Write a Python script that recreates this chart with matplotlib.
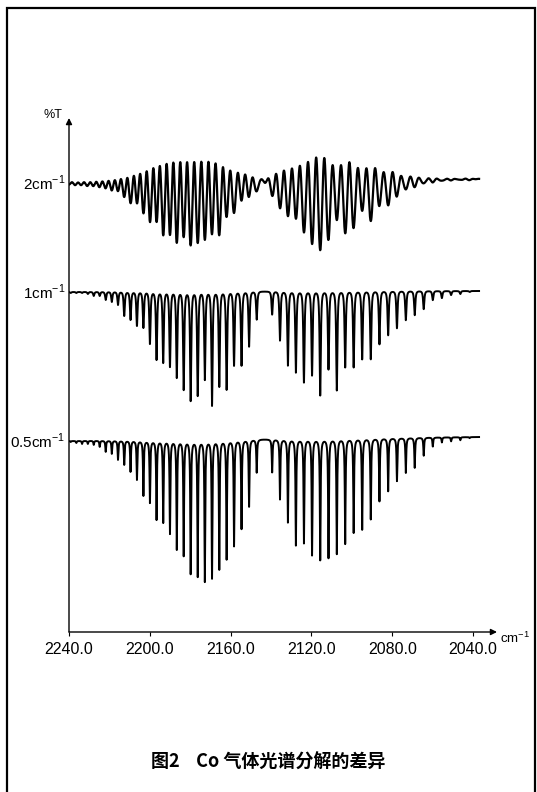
import numpy as np
import matplotlib
matplotlib.use("Agg")
import matplotlib.pyplot as plt
from matplotlib.patches import Rectangle

plt.rcParams['font.family'] = ['Liberation Sans', 'Noto Sans CJK SC', 'DejaVu Sans']

# CO fundamental band line positions (cm-1)
r_pos = [2147.08, 2150.86, 2154.60, 2158.30, 2161.97, 2165.60, 2169.20, 2172.76,
         2176.28, 2179.77, 2183.22, 2186.64, 2190.02, 2193.36, 2196.66, 2199.94,
         2203.17, 2206.37, 2209.54, 2212.66, 2215.75, 2218.81, 2221.83, 2224.81,
         2227.76, 2230.67, 2233.54, 2236.38, 2239.18]
p_pos = [2139.43, 2135.55, 2131.63, 2127.68, 2123.70, 2119.68, 2115.63, 2111.54,
         2107.42, 2103.27, 2099.08, 2094.86, 2090.61, 2086.32, 2082.00, 2077.65,
         2073.26, 2068.85, 2064.40, 2059.91, 2055.40, 2050.85, 2046.28, 2041.67]

# line depths (arbitrary %T units)
r_2cm = [12, 15, 17, 32, 33, 53, 47, 53, 57, 60, 48, 55, 45, 47, 32, 35, 27, 17, 19, 13,
         7, 7, 5, 4, 3, 3, 2, 2, 1]
p_2cm = [15, 28, 37, 38, 55, 67, 73, 65, 42, 58, 53, 33, 47, 28, 30, 18, 12, 8, 5, 3,
         2, 1, 1, 1]
r_1cm = [28, 55, 74, 74, 98, 95, 114, 88, 104, 109, 98, 86, 75, 71, 68, 52, 36, 34, 28, 24,
         13, 10, 8, 4, 4, 2, 1, 1, 1]
p_1cm = [23, 49, 74, 81, 91, 84, 104, 78, 99, 76, 76, 68, 68, 53, 44, 37, 29, 24, 18, 9,
         7, 4, 3, 1]
r_05cm = [33, 67, 89, 106, 119, 129, 138, 141, 136, 133, 115, 109, 93, 82, 79, 62, 55, 39,
          31, 24, 19, 13, 11, 6, 4, 3, 3, 2, 1]
p_05cm = [33, 60, 83, 106, 104, 116, 121, 119, 115, 105, 94, 91, 81, 63, 53, 43, 35, 30,
          18, 9, 5, 4, 3, 1]

labels = ['2cm$^{\\mathregular{-1}}$', '1cm$^{\\mathregular{-1}}$', '0.5cm$^{\\mathregular{-1}}$']
baselines = [(449, 453), (340, 341), (191, 195)]
xticks = [2240, 2200, 2160, 2120, 2080, 2040]

W, H = 537, 792
fig = plt.figure(figsize=(W / 100, H / 100), dpi=100)

x0, x1 = 69, 497       # px of axes left/right
ytop, ybot = 118, 632  # px from top
ax = fig.add_axes([x0 / W, 1 - ybot / H, (x1 - x0) / W, (ybot - ytop) / H])
ax.set_xlim(2240, 2240 - (x1 - x0) / 2.02)
ax.set_ylim(0, ybot - ytop)
for s in ax.spines.values():
    s.set_visible(False)

pos = np.array(r_pos + p_pos)
x = np.linspace(2240, 2037, 9000)
d = x[None, :] - pos[:, None]


def trace(depths, kind, w, gain):
    dep = np.array(depths, float)[:, None]
    if kind == 'sinc':
        k = np.sinc(d / w)
    elif kind == 'lor15':
        k = (1 + (d / w) ** 2) ** -1.5
    else:
        k = 1 / (1 + (d / w) ** 2)
    return gain * (dep * k).sum(0)


specs = [(r_2cm + p_2cm, 'sinc', 1.5, 0.85, 1.6),
         (r_1cm + p_1cm, 'lor15', 0.45, 1.0, 1.4),
         (r_05cm + p_05cm, 'lor', 0.22, 1.0, 1.4)]

for (dep, kind, w, g, lw), (bl, br), lab in zip(specs, baselines, labels):
    base = bl + (br - bl) * (2240 - x) / (2240 - 2037)
    ax.plot(x, base - trace(dep, kind, w, g), color='black', lw=lw)
    ax.text(-0.008, bl, lab, transform=ax.get_yaxis_transform(), ha='right', va='center',
            fontsize=11)

# axes with arrows
ax.annotate('', xy=(0, 1), xytext=(0, 0), xycoords='axes fraction',
            arrowprops=dict(arrowstyle='-|>', color='black', lw=1.0, mutation_scale=9,
                            shrinkA=0, shrinkB=0))
ax.annotate('', xy=(1, 0), xytext=(0, 0), xycoords='axes fraction',
            arrowprops=dict(arrowstyle='-|>', color='black', lw=1.0, mutation_scale=9,
                            shrinkA=0, shrinkB=0))

ax.set_xticks(xticks)
ax.set_xticklabels(['%.1f' % v for v in xticks], fontsize=11.5)
ax.tick_params(axis='x', direction='out', length=3, width=0.8, pad=4)
ax.set_yticks([])

fig.text(53 / W, 1 - 115 / H, '%T', ha='center', va='center', fontsize=9)
fig.text(500 / W, 1 - 638 / H, 'cm$^{\\mathregular{-1}}$', ha='left', va='center', fontsize=9.5)

fig.text(0.5, 1 - 762 / H, '图2    Co 气体光谱分解的差异', ha='center', va='center',
         fontsize=13, fontweight='bold', family=['Noto Sans CJK SC', 'DejaVu Sans'])

fig.patches.append(Rectangle((7 / W, -0.02), (535 - 7) / W, 1 - 8 / H + 0.02,
                             transform=fig.transFigure, fill=False, lw=1.6,
                             edgecolor='black'))

fig.savefig('out.png', dpi=100)
